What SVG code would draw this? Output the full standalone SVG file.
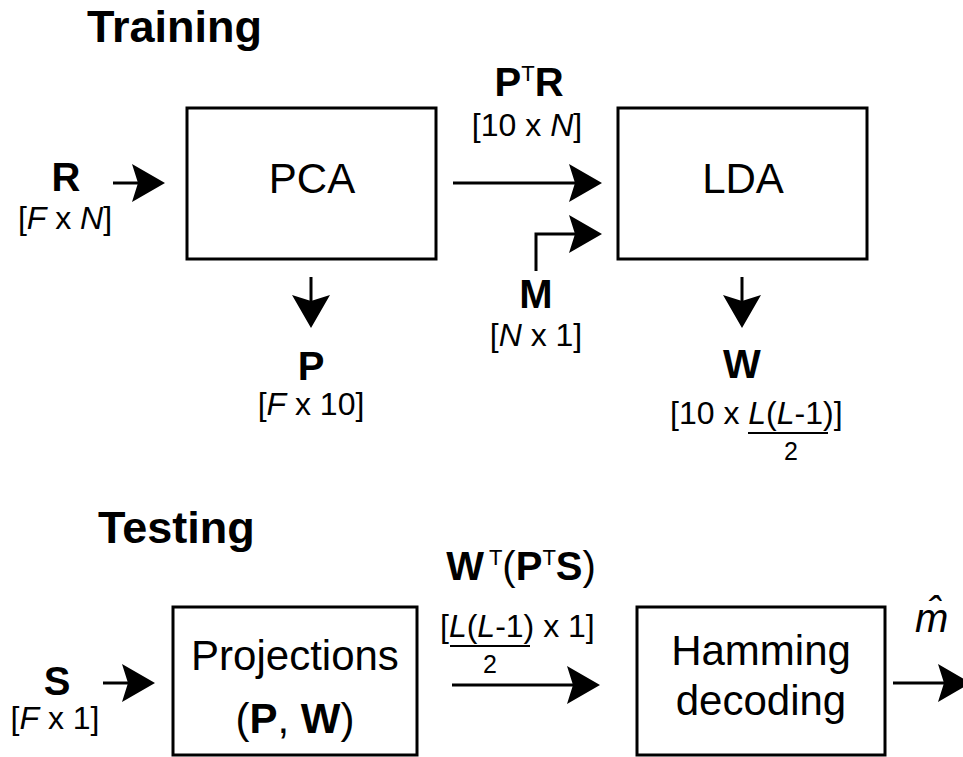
<svg xmlns="http://www.w3.org/2000/svg" width="963" height="757" viewBox="0 0 963 757">
<style>
text{font-family:"Liberation Sans",Arial,sans-serif;fill:#000}
.title{font-size:45px;font-weight:bold}
.box{fill:#fff;stroke:#000;stroke-width:3}
.btxt{font-size:42px;text-anchor:middle}
.lbl{font-size:40px;font-weight:bold;text-anchor:middle}
.dim{font-size:32px}
.mid{text-anchor:middle}
.it{font-style:italic}
.b{font-weight:bold}
.n{font-weight:normal}
.sup{font-size:22px;font-weight:normal}
.two{font-size:25px;text-anchor:middle}
.con{fill:none;stroke:#000;stroke-width:3}
.frac{stroke:#000;stroke-width:2}
</style>
<defs>
<marker id="arr" markerUnits="userSpaceOnUse" markerWidth="36" markerHeight="40" viewBox="0 0 36 40" refX="7" refY="20" orient="auto">
<path d="M1,1 L34,20 L1,39 L7,20 Z" fill="#000"/>
</marker>
</defs>
<rect width="963" height="757" fill="#fff"/>
<text class="title" x="87" y="42">Training</text>
<text class="title" x="98" y="543">Testing</text>

<g id="connectors">
<line class="con" x1="113" y1="183" x2="138" y2="183" marker-end="url(#arr)"/>
<line class="con" x1="453" y1="183" x2="575" y2="183" marker-end="url(#arr)"/>
<path class="con" d="M536,271 V234 H575" marker-end="url(#arr)"/>
<line class="con" x1="311" y1="277" x2="311" y2="301" marker-end="url(#arr)"/>
<line class="con" x1="742" y1="277" x2="742" y2="301" marker-end="url(#arr)"/>
<line class="con" x1="103" y1="683" x2="128" y2="683" marker-end="url(#arr)"/>
<line class="con" x1="452" y1="685" x2="573" y2="685" marker-end="url(#arr)"/>
<line class="con" x1="893" y1="683" x2="944" y2="683" marker-end="url(#arr)"/>
</g>

<g id="pca">
<rect class="box" x="187" y="108" width="249" height="151"/>
<text class="btxt" x="312" y="193">PCA</text>
</g>
<g id="lda">
<rect class="box" x="618" y="108" width="249" height="151"/>
<text class="btxt" x="743" y="193">LDA</text>
</g>
<g id="projections">
<rect class="box" x="173" y="607" width="244" height="148"/>
<text class="btxt" x="295" y="670">Projections</text>
<text class="btxt" x="295" y="733">(<tspan class="b">P</tspan>, <tspan class="b">W</tspan>)</text>
</g>
<g id="hamming">
<rect class="box" x="637" y="607" width="248" height="148"/>
<text class="btxt" x="761" y="665">Hamming</text>
<text class="btxt" x="761" y="715">decoding</text>
</g>

<g id="label-R">
<text class="lbl" x="66" y="191">R</text>
<text class="dim mid" x="65" y="229">[<tspan class="it">F</tspan> x <tspan class="it">N</tspan>]</text>
</g>
<g id="label-PTR">
<text class="lbl" x="529" y="96">P<tspan class="sup" dy="-15">T</tspan><tspan dy="15">R</tspan></text>
<text class="dim mid" x="527" y="136">[10 x <tspan class="it">N</tspan>]</text>
</g>
<g id="label-M">
<text class="lbl" x="536" y="308">M</text>
<text class="dim mid" x="536" y="346">[<tspan class="it">N</tspan> x 1]</text>
</g>
<g id="label-P">
<text class="lbl" x="311" y="380">P</text>
<text class="dim mid" x="311" y="415">[<tspan class="it">F</tspan> x 10]</text>
</g>
<g id="label-W">
<text class="lbl" x="742" y="378">W</text>
<text class="dim" x="670" y="424">[10 x <tspan class="it">L</tspan>(<tspan class="it">L</tspan>-1)]</text>
<line class="frac" x1="748" y1="433" x2="828" y2="433"/>
<text class="two" x="791" y="460">2</text>
</g>
<g id="label-S">
<text class="lbl" x="57" y="695">S</text>
<text class="dim mid" x="55" y="729">[<tspan class="it">F</tspan> x 1]</text>
</g>
<g id="label-WTPTS">
<text class="lbl" x="521" y="580">W<tspan class="sup" dx="5" dy="-15">T</tspan><tspan class="n" dy="15">(</tspan>P<tspan class="sup" dy="-15">T</tspan><tspan dy="15">S</tspan><tspan class="n">)</tspan></text>
<text class="dim" x="440" y="637">[<tspan class="it">L</tspan>(<tspan class="it">L</tspan>-1) x 1]</text>
<line class="frac" x1="450" y1="646" x2="530" y2="646"/>
<text class="two" x="490" y="673">2</text>
</g>
<g id="label-mhat">
<text class="it" x="915" y="632" style="font-size:40px">m&#x302;</text>
</g>
</svg>
